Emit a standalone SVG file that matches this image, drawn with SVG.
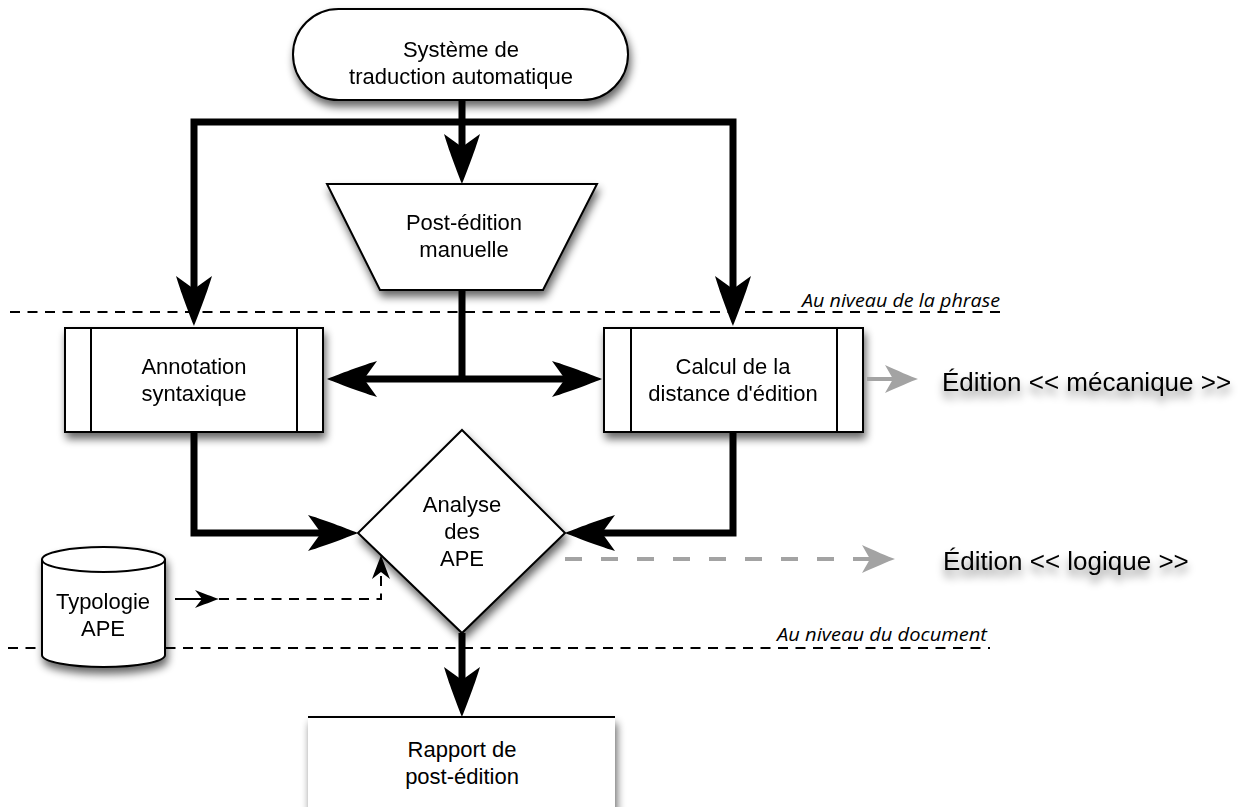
<svg xmlns="http://www.w3.org/2000/svg" width="1255" height="807" viewBox="0 0 1255 807">
  <defs>
    <style>
      .node { fill: #ffffff; stroke: #000000; stroke-width: 2; }
      .lbl { font-family: "Liberation Sans", Arial, sans-serif; font-size: 22px; fill: #000000; text-anchor: middle; }
      .big { font-family: "Liberation Sans", Arial, sans-serif; font-size: 26px; fill: #000000; }
      .level { font-family: "Open Sans", "DejaVu Sans", sans-serif; font-style: italic; font-size: 18px; fill: #000000; }
      .sep { fill: none; stroke: #000000; stroke-width: 2; stroke-dasharray: 10 7.5; }
      .thick { fill: none; stroke: #000000; stroke-width: 7; }
      .thin { fill: none; stroke: #000000; stroke-width: 2; }
      .gray { fill: none; stroke: #a3a3a3; stroke-width: 4; }
    </style>
    <filter id="shadow" x="-20%" y="-20%" width="140%" height="150%">
      <feGaussianBlur in="SourceAlpha" stdDeviation="4"/>
      <feOffset dx="2" dy="6" result="b"/>
      <feComponentTransfer><feFuncA type="linear" slope="0.6"/></feComponentTransfer>
      <feMerge><feMergeNode/><feMergeNode in="SourceGraphic"/></feMerge>
    </filter>
    <filter id="tshadow" x="-10%" y="-40%" width="120%" height="200%">
      <feGaussianBlur in="SourceAlpha" stdDeviation="4"/>
      <feOffset dx="0" dy="7" result="b"/>
      <feComponentTransfer><feFuncA type="linear" slope="0.5"/></feComponentTransfer>
      <feMerge><feMergeNode/><feMergeNode in="SourceGraphic"/></feMerge>
    </filter>
    <marker id="ah" markerUnits="userSpaceOnUse" orient="auto-start-reverse" refX="0" refY="0" markerWidth="60" markerHeight="40" overflow="visible">
      <path d="M30,0 C22,-3 0,-12 -20,-18 L-7,0 L-20,18 C0,12 22,3 30,0 Z" fill="#000000"/>
    </marker>
    <marker id="gh" markerUnits="userSpaceOnUse" orient="auto" refX="0" refY="0" markerWidth="40" markerHeight="30" overflow="visible">
      <path d="M22,0 C16,-2 0,-9 -11,-14 L-3,0 L-11,14 C0,9 16,2 22,0 Z" fill="#a3a3a3"/>
    </marker>
    <marker id="sh" markerUnits="userSpaceOnUse" orient="auto" refX="0" refY="0" markerWidth="30" markerHeight="20" overflow="visible">
      <path d="M4,0 C-2,-2 -12,-6 -20,-9 L-13,0 L-20,9 C-12,6 -2,2 4,0 Z" fill="#000000"/>
    </marker>
  </defs>

  <rect width="1255" height="807" fill="#ffffff"/>

  <g id="levels">
    <path class="sep" d="M10,312 H1005"/>
    <text class="level" x="802" y="307" textLength="198" lengthAdjust="spacingAndGlyphs">Au niveau de la phrase</text>
    <path class="sep" d="M8,648 H990"/>
    <text class="level" x="777" y="641" textLength="210" lengthAdjust="spacingAndGlyphs">Au niveau du document</text>
  </g>

  <g id="systeme" filter="url(#shadow)">
    <rect class="node" x="293" y="9" width="335" height="91" rx="45.5"/>
    <text class="lbl" x="461" y="57">Système de</text>
    <text class="lbl" x="461" y="84">traduction automatique</text>
  </g>

  <g id="postedition" filter="url(#shadow)">
    <polygon class="node" points="327,184 597,184 543,290 380,290"/>
    <text class="lbl" x="464" y="230">Post-édition</text>
    <text class="lbl" x="464" y="257">manuelle</text>
  </g>

  <g id="annotation" filter="url(#shadow)">
    <rect class="node" x="65" y="328" width="258" height="104"/>
    <path class="thin" d="M91,328 V432 M297,328 V432"/>
    <text class="lbl" x="194" y="374">Annotation</text>
    <text class="lbl" x="194" y="401">syntaxique</text>
  </g>

  <g id="calcul" filter="url(#shadow)">
    <rect class="node" x="604" y="328" width="259" height="104"/>
    <path class="thin" d="M631,328 V432 M837,328 V432"/>
    <text class="lbl" x="733" y="374">Calcul de la</text>
    <text class="lbl" x="733" y="401">distance d'édition</text>
  </g>

  <g id="analyse" filter="url(#shadow)">
    <polygon class="node" points="462,430 565,533 462,633 358,533"/>
    <text class="lbl" x="462" y="512">Analyse</text>
    <text class="lbl" x="462" y="539">des</text>
    <text class="lbl" x="462" y="566">APE</text>
  </g>

  <g id="typologie" filter="url(#shadow)">
    <path class="node" d="M42,559.5 A61.5,12.5 0 0 1 165,559.5 V655 A61.5,12 0 0 1 42,655 Z"/>
    <path class="thin" d="M42,559.5 A61.5,12.5 0 0 0 165,559.5"/>
    <text class="lbl" x="103" y="609">Typologie</text>
    <text class="lbl" x="103" y="636">APE</text>
  </g>

  <g id="rapport">
    <rect x="308" y="717" width="307" height="120" fill="#ffffff" filter="url(#shadow)"/>
    <path d="M308,717 H615" stroke="#000000" stroke-width="2" fill="none"/>
    <text class="lbl" x="462" y="757">Rapport de</text>
    <text class="lbl" x="462" y="784">post-édition</text>
  </g>

  <g id="edition-mecanique" filter="url(#tshadow)">
    <text class="big" x="942" y="391">Édition &lt;&lt; mécanique &gt;&gt;</text>
  </g>

  <g id="edition-logique" filter="url(#tshadow)">
    <text class="big" x="943" y="570">Édition &lt;&lt; logique &gt;&gt;</text>
  </g>

  <g id="connectors">
    <path class="thick" d="M462,100 V154" marker-end="url(#ah)"/>
    <path class="thick" d="M462,122 H194 V296" marker-end="url(#ah)"/>
    <path class="thick" d="M462,122 H733 V296" marker-end="url(#ah)"/>
    <path class="thick" d="M462,290 V379"/>
    <path class="thick" d="M357,379 H572" marker-start="url(#ah)" marker-end="url(#ah)"/>
    <path class="thick" d="M194,432 V533 H328" marker-end="url(#ah)"/>
    <path class="thick" d="M733,432 V533 H595" marker-end="url(#ah)"/>
    <path class="thick" d="M462,633 V687" marker-end="url(#ah)"/>
    <path class="gray" d="M867,379 H896" marker-end="url(#gh)"/>
    <path class="gray" d="M565,559 H873" stroke-dasharray="17 19" marker-end="url(#gh)"/>
    <path class="thin" d="M175,599 H215" marker-end="url(#sh)"/>
    <path class="thin" d="M219,599 H381 V559" stroke-dasharray="10 7.5" marker-end="url(#sh)"/>
  </g>
</svg>
